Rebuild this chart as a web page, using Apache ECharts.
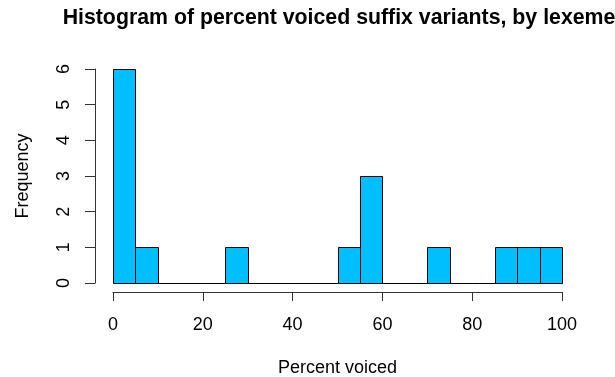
<!DOCTYPE html>
<html>
<head>
<meta charset="utf-8">
<script src="https://cdn.jsdelivr.net/npm/echarts@6/dist/echarts.min.js"></script>
<style>
html,body{margin:0;padding:0;background:#fff;}
#chart{width:615px;height:377px;}
</style>
</head>
<body>
<div id="chart"></div>
<script>
const titleText = "Histogram of percent voiced suffix variants, by lexeme";
const xAxisTitle = "Percent voiced";
const yAxisTitle = "Frequency";
const binEdges = [0,5,10,15,20,25,30,35,40,45,50,55,60,65,70,75,80,85,90,95,100];
const counts = [6,1,0,0,0,1,0,0,0,0,1,3,0,0,1,0,0,1,1,1];
const xTicks = [0,20,40,60,80,100];
const yTicks = [0,1,2,3,4,5,6];

const FONT = '"Liberation Sans", Arial, Helvetica, sans-serif';
const data = counts.map((c,i)=>[binEdges[i], binEdges[i+1], c]);

const chart = echarts.init(document.getElementById('chart'), null, {renderer:'canvas'});
chart.setOption({
  animation:false,
  backgroundColor:'#fff',
  title:{
    text:titleText, left:334, top:3, textAlign:'center',
    textStyle:{fontFamily:FONT, fontWeight:'bold', fontSize:21.3, color:'#000'}
  },
  grid:{left:113, right:53, top:69, bottom:94, containLabel:false, outerBoundsMode:'none'},
  xAxis:{
    type:'value', min:xTicks[0], max:xTicks[xTicks.length-1], interval:20,
    offset:9,
    name:xAxisTitle, nameLocation:'middle', nameGap:67,
    nameTextStyle:{fontFamily:FONT, fontSize:18, color:'#000'},
    axisLine:{show:true, onZero:false, lineStyle:{color:'#333', width:1}},
    axisTick:{show:true, length:9, lineStyle:{color:'#333'}},
    axisLabel:{fontFamily:FONT, fontSize:18, color:'#000', margin:24, showMinLabel:true, showMaxLabel:true},
    splitLine:{show:false}
  },
  yAxis:{
    type:'value', min:yTicks[0], max:yTicks[yTicks.length-1], interval:1,
    offset:18,
    name:yAxisTitle, nameLocation:'middle', nameGap:63, nameRotate:90,
    nameTextStyle:{fontFamily:FONT, fontSize:18, color:'#000'},
    axisLine:{show:true, onZero:false, lineStyle:{color:'#333', width:1}},
    axisTick:{show:true, length:10, lineStyle:{color:'#333'}},
    axisLabel:{fontFamily:FONT, fontSize:18, color:'#000', margin:22, rotate:90},
    splitLine:{show:false}
  },
  series:[{
    type:'custom',
    data:data,
    clip:false,
    renderItem:function(params, api){
      const p0 = api.coord([api.value(0), 0]);
      const p1 = api.coord([api.value(1), api.value(2)]);
      return {
        type:'rect',
        shape:{x:Math.round(p0[0])+0.5, y:Math.round(p1[1])+0.5, width:Math.round(p1[0])-Math.round(p0[0]), height:Math.round(p0[1])-Math.round(p1[1])},
        style:{fill:'#00BFFF', stroke:'#000', lineWidth:1}
      };
    }
  }]
});
</script>
</body>
</html>
